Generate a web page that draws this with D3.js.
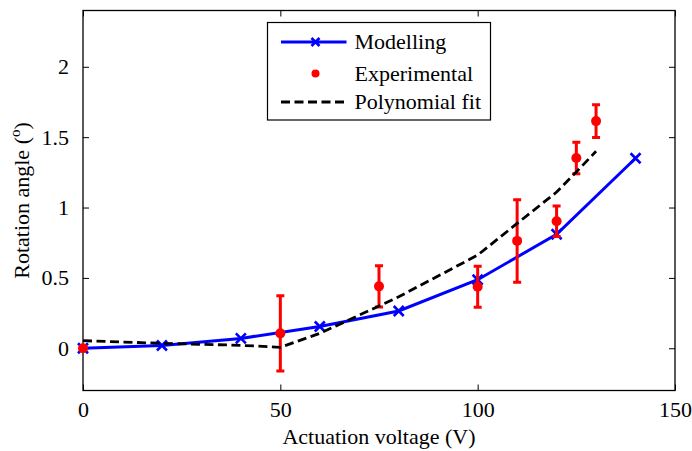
<!DOCTYPE html>
<html>
<head>
<meta charset="utf-8">
<script src="https://cdn.jsdelivr.net/npm/d3@7"></script>
<style>
    body { margin: 0; background: #fff; }
</style>
</head>
<body>
<svg id="chart" width="692" height="451"></svg>
<script>
// modelling curve
const modelVoltage = [0, 20, 40, 60, 80, 100, 120, 140];
const modelAngle = [0, 0.02, 0.07, 0.155, 0.265, 0.487, 0.81, 1.35];

// experimental points with error bars (+/-)
const expVoltage = [0, 50, 75, 100, 110, 120, 125, 130];
const expAngle = [0, 0.106, 0.44, 0.437, 0.763, 0.903, 1.352, 1.614];
const expError = [0, 0.267, 0.147, 0.145, 0.293, 0.108, 0.112, 0.117];

// polynomial fit (as plotted)
const fitVoltage = [0, 20, 40, 50, 60, 75, 80, 100, 110, 120, 125, 130];
const fitAngle = [0.054, 0.035, 0.021, 0.007, 0.106, 0.30, 0.366, 0.662, 0.887, 1.11, 1.253, 1.40];

const xTicks = [0, 50, 100, 150];
const yTicks = [0, 0.5, 1, 1.5, 2];
const yTickLabels = ["0", "0.5", "1", "1.5", "2"];
const legendLabels = ["Modelling", "Experimental", "Polynomial fit"];

const serif = "'Liberation Serif', 'DejaVu Serif', serif";
const svg = d3.select("#chart");
const margin = { top: 10.5, right: 17, bottom: 60.5, left: 83 };
const width = 692 - margin.left - margin.right;
const height = 451 - margin.top - margin.bottom;

const x = d3.scaleLinear().domain([0, 150]).range([0, width]);
const y = d3.scaleLinear().domain([-0.3, 2.4]).range([height, 0]);

const g = svg.append("g").attr("transform", `translate(${margin.left},${margin.top})`);

// axes (ticks inward, mirrored on top/right)
const fontSize = 22;
const xAxis = g.append("g")
    .attr("transform", `translate(0,${height})`)
    .call(d3.axisBottom(x).tickValues(xTicks).tickSizeInner(-6).tickSizeOuter(0).tickPadding(14).tickFormat(d => String(d)));
const yAxis = g.append("g")
    .call(d3.axisLeft(y).tickValues(yTicks).tickSizeInner(-6).tickSizeOuter(0).tickPadding(14)
        .tickFormat((d, i) => yTickLabels[i]));
g.append("g")
    .call(d3.axisTop(x).tickValues(xTicks).tickSizeInner(-6).tickSizeOuter(0).tickFormat(""));
g.append("g")
    .attr("transform", `translate(${width},0)`)
    .call(d3.axisRight(y).tickValues(yTicks).tickSizeInner(-6).tickSizeOuter(0).tickFormat(""));

g.selectAll(".domain").remove();
g.selectAll(".tick line").attr("stroke", "#000").attr("stroke-width", 1);
g.selectAll(".tick text")
    .style("font-family", serif)
    .attr("font-size", fontSize)
    .attr("fill", "#000");
xAxis.selectAll(".tick text").attr("dy", "0.55em");

g.append("rect")
    .attr("width", width)
    .attr("height", height)
    .attr("fill", "none")
    .attr("stroke", "#000")
    .attr("stroke-width", 1.3);

// modelling line
const model = modelVoltage.map((v, i) => ({ v, a: modelAngle[i] }));
const line = d3.line().x(d => x(d.v)).y(d => y(d.a));

g.append("path")
    .datum(model)
    .attr("d", line)
    .attr("fill", "none")
    .attr("stroke", "#0000ff")
    .attr("stroke-width", 3);

function cross(sel, s) {
    sel.append("path")
        .attr("d", `M${-s},${-s}L${s},${s}M${-s},${s}L${s},${-s}`)
        .attr("stroke", "#0000ff")
        .attr("stroke-width", 2.6)
        .attr("fill", "none");
}

g.append("g").selectAll("g")
    .data(model)
    .enter().append("g")
    .attr("transform", d => `translate(${x(d.v)},${y(d.a)})`)
    .each(function () { cross(d3.select(this), 5); });

// experimental points
const exp = expVoltage.map((v, i) => ({ v, a: expAngle[i], e: expError[i] }));
const expG = g.append("g").selectAll("g")
    .data(exp)
    .enter().append("g")
    .attr("transform", d => `translate(${x(d.v)},0)`);

expG.filter(d => d.e > 0).append("path")
    .attr("d", d => {
        const top = y(d.a + d.e), bot = y(d.a - d.e);
        return `M0,${top}L0,${bot}M-4,${top}L4,${top}M-4,${bot}L4,${bot}`;
    })
    .attr("stroke", "#ff0000")
    .attr("stroke-width", 3)
    .attr("fill", "none");

expG.append("circle")
    .attr("cy", d => y(d.a))
    .attr("r", 5)
    .attr("fill", "#ff0000");

// polynomial fit
const fit = fitVoltage.map((v, i) => ({ v, a: fitAngle[i] }));
g.append("path")
    .datum(fit)
    .attr("d", line)
    .attr("fill", "none")
    .attr("stroke", "#000")
    .attr("stroke-width", 2.8)
    .attr("stroke-dasharray", "9,4.5");

// axis labels
svg.append("text")
    .attr("x", margin.left + width / 2)
    .attr("y", 444)
    .attr("text-anchor", "middle")
    .style("font-family", serif)
    .attr("font-size", fontSize)
    .text("Actuation voltage (V)");

const yl = svg.append("text")
    .attr("transform", `translate(29,${margin.top + height / 2}) rotate(-90)`)
    .attr("text-anchor", "middle")
    .style("font-family", serif)
    .attr("font-size", fontSize);
yl.append("tspan").text("Rotation angle (");
yl.append("tspan").attr("font-size", 15).attr("dy", -9).text("o");
yl.append("tspan").attr("dy", 9).text(")");

// legend
const lx = 267.5 - margin.left, ly = 22.5 - margin.top;
const legend = g.append("g").attr("transform", `translate(${lx},${ly})`);
legend.append("rect")
    .attr("width", 223)
    .attr("height", 97.5)
    .attr("fill", "#fff")
    .attr("stroke", "#000")
    .attr("stroke-width", 1.2);

const rowY = [19.5, 51, 79.5];
legendLabels.forEach((label, i) => {
    const row = legend.append("g").attr("transform", `translate(0,${rowY[i]})`);
    if (i === 0) {
        row.append("line").attr("x1", 13.5).attr("x2", 79).attr("stroke", "#0000ff").attr("stroke-width", 3);
        const m = row.append("g").attr("transform", "translate(48,0)");
        cross(m, 4);
    } else if (i === 1) {
        row.append("circle").attr("cx", 48).attr("r", 4).attr("fill", "#ff0000");
    } else {
        row.append("line").attr("x1", 13.5).attr("x2", 79).attr("stroke", "#000")
            .attr("stroke-width", 2.8).attr("stroke-dasharray", "9,4.5");
    }
    row.append("text")
        .attr("x", 87)
        .attr("y", 0)
        .attr("dy", "0.33em")
        .style("font-family", serif)
        .attr("font-size", fontSize)
        .text(label);
});
</script>
</body>
</html>
